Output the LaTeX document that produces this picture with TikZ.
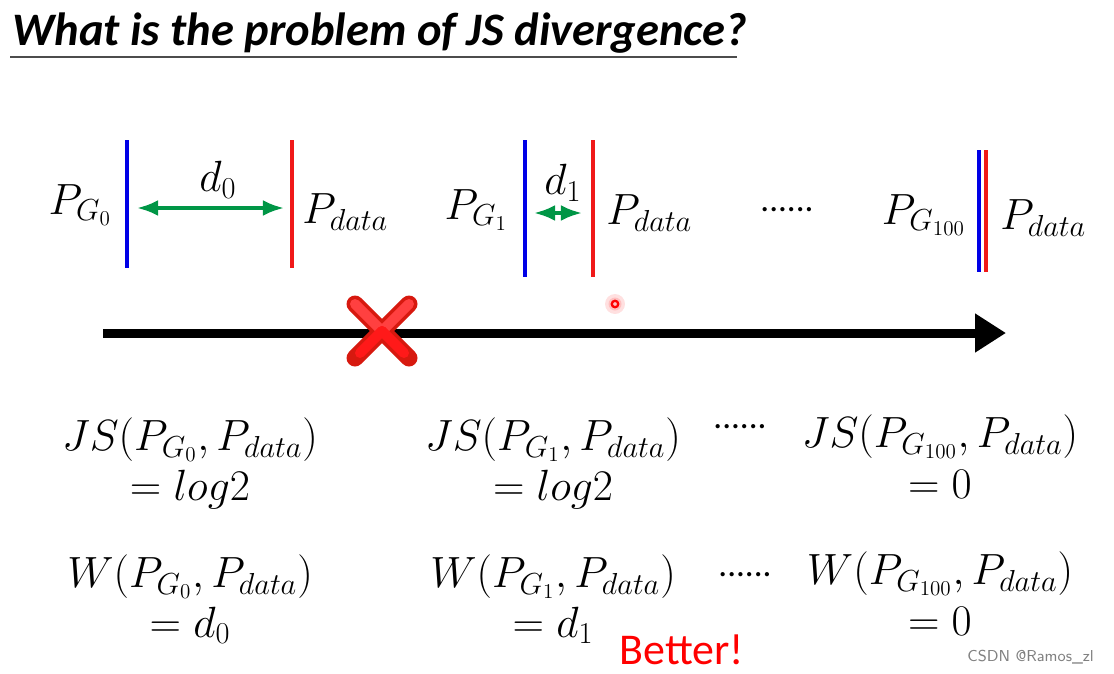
\documentclass[tikz,border=0pt]{standalone}
\usepackage{fontspec}
\setmainfont{Carlito}
\usetikzlibrary{arrows.meta, positioning, calc}
\definecolor{dgreen}{RGB}{0,150,70}
\definecolor{lblue}{RGB}{0,0,230}
\definecolor{lred}{RGB}{240,25,25}
\definecolor{xred}{RGB}{215,25,15}
\newcommand{\pdat}{P_{data}}

\begin{document}
\begin{tikzpicture}[x=0.02cm, y=-0.02cm, >=Latex,
  bar/.style={line width=2.1pt},
  dist/.style={<->, dgreen, line width=2pt},
  lab/.style={font=\fontsize{24}{26}\selectfont},
  formula/.style={font=\fontsize{24}{26}\selectfont, inner sep=0},
  dots/.style={font=\fontsize{20}{22}\selectfont}]
  \useasboundingbox (0,0) rectangle (1114,673);

  % title
  \node[anchor=base west, inner sep=0, font=\fontsize{26.5}{30}\selectfont\bfseries\itshape] (title) at (12,45) {What is the problem of JS divergence?};
  \draw[gray!60!black, line width=1.4pt] (10,57) -- (737,57);

  % three snapshots of the two distributions
  \coordinate (B0t) at (127,140); \coordinate (B0b) at (127,268);
  \coordinate (R0t) at (292,140); \coordinate (R0b) at (292,268);
  \coordinate (B1t) at (525,140); \coordinate (B1b) at (525,277);
  \coordinate (R1t) at (593,140); \coordinate (R1b) at (593,277);
  \coordinate (B2t) at (979,150); \coordinate (B2b) at (979,272);
  \coordinate (R2t) at (986,150); \coordinate (R2b) at (986,272);

  \draw[bar, lblue] (B0t) -- (B0b);
  \draw[bar, lred] (R0t) -- (R0b);
  \draw[bar, lblue] (B1t) -- (B1b);
  \draw[bar, lred] (R1t) -- (R1b);
  \draw[bar, lblue] (B2t) -- (B2b);
  \draw[bar, lred] (R2t) -- (R2b);

  \coordinate (a0) at (137,208); \coordinate (b0) at (284,208);
  \coordinate (a1) at (534,213); \coordinate (b1) at (582,213);
  \draw[dist] (a0) -- (b0);
  \draw[dist] (a1) -- (b1);
  \node[lab] (d0) at (218,180) {$d_0$};
  \node[lab] (d1) at (563,183) {$d_1$};

  \node[lab, anchor=east, inner sep=0] (g0) at (112,205) {$P_{G_0}$};
  \node[lab, anchor=west, inner sep=0] (p0) at (302,212) {$\pdat$};
  \node[lab, anchor=east, inner sep=0] (g1) at (508,210) {$P_{G_1}$};
  \node[lab, anchor=west, inner sep=0] (p1) at (606,213) {$\pdat$};
  \node[dots] (dt0) at (787,210) {......};
  \node[lab, anchor=east, inner sep=0] (g2) at (966,215) {$P_{G_{100}}$};
  \node[lab, anchor=west, inner sep=0] (p2) at (1000,218) {$\pdat$};

  % training axis
  \coordinate (ax0) at (103,333); \coordinate (ax1) at (1006,333);
  \draw[line width=0.18cm, -{Triangle[length=0.62cm, width=0.74cm]}] (ax0) -- (ax1);

  % red cross
  \coordinate (xc) at (382,331);
  \draw[line width=0.34cm, line cap=round, xred] ($(xc)+(-27,-27)$) -- ($(xc)+(27,27)$);
  \draw[line width=0.34cm, line cap=round, xred] ($(xc)+(27,-27)$) -- ($(xc)+(-27,27)$);
  \draw[line width=0.2cm, line cap=round, red!75] ($(xc)+(-27,-27)$) -- ($(xc)+(0,0)$);
  \draw[line width=0.2cm, line cap=round, red!75] ($(xc)+(27,-27)$) -- ($(xc)+(0,0)$);
  \draw[line width=0.2cm, line cap=round, red!90] ($(xc)+(0,0)$) -- ($(xc)+(22,22)$);
  \draw[line width=0.2cm, line cap=round, red!90] ($(xc)+(0,0)$) -- ($(xc)+(-22,22)$);

  % pointer dot
  \fill[red!12] (615,304) circle (0.2cm);
  \fill[red!25] (615,304) circle (0.13cm);
  \draw[red, line width=1.3pt] (615,304) circle (0.065cm);

  % divergence values
  \node[formula] (js0) at (190,440) {$JS(P_{G_0},\pdat)$};
  \node[formula, below=4pt of js0] (js0v) {$=log2$};
  \node[formula] (js1) at (553,440) {$JS(P_{G_1},\pdat)$};
  \node[formula, below=4pt of js1] (js1v) {$=log2$};
  \node[formula] (js2) at (940,437) {$JS(P_{G_{100}},\pdat)$};
  \node[formula, below=6pt of js2] (js2v) {$=0$};
  \node[formula] (w0) at (190,577) {$W(P_{G_0},\pdat)$};
  \node[formula, below=4pt of w0] (w0v) {$=d_0$};
  \node[formula] (w1) at (553,577) {$W(P_{G_1},\pdat)$};
  \node[formula, below=4pt of w1] (w1v) {$=d_1$};
  \node[formula] (w2) at (940,574) {$W(P_{G_{100}},\pdat)$};
  \node[formula, below=6pt of w2] (w2v) {$=0$};
  \node[dots] (dt1) at (740,427) {......};
  \node[dots] (dt2) at (745,575) {......};

  \node[red, font=\fontsize{25}{28}\selectfont] (better) at (682,650) {Better!};
  \node[gray, font=\sffamily\fontsize{9}{10}\selectfont, anchor=east] (mark) at (1100,657) {CSDN @Ramos\_zl};
\end{tikzpicture}
\end{document}
